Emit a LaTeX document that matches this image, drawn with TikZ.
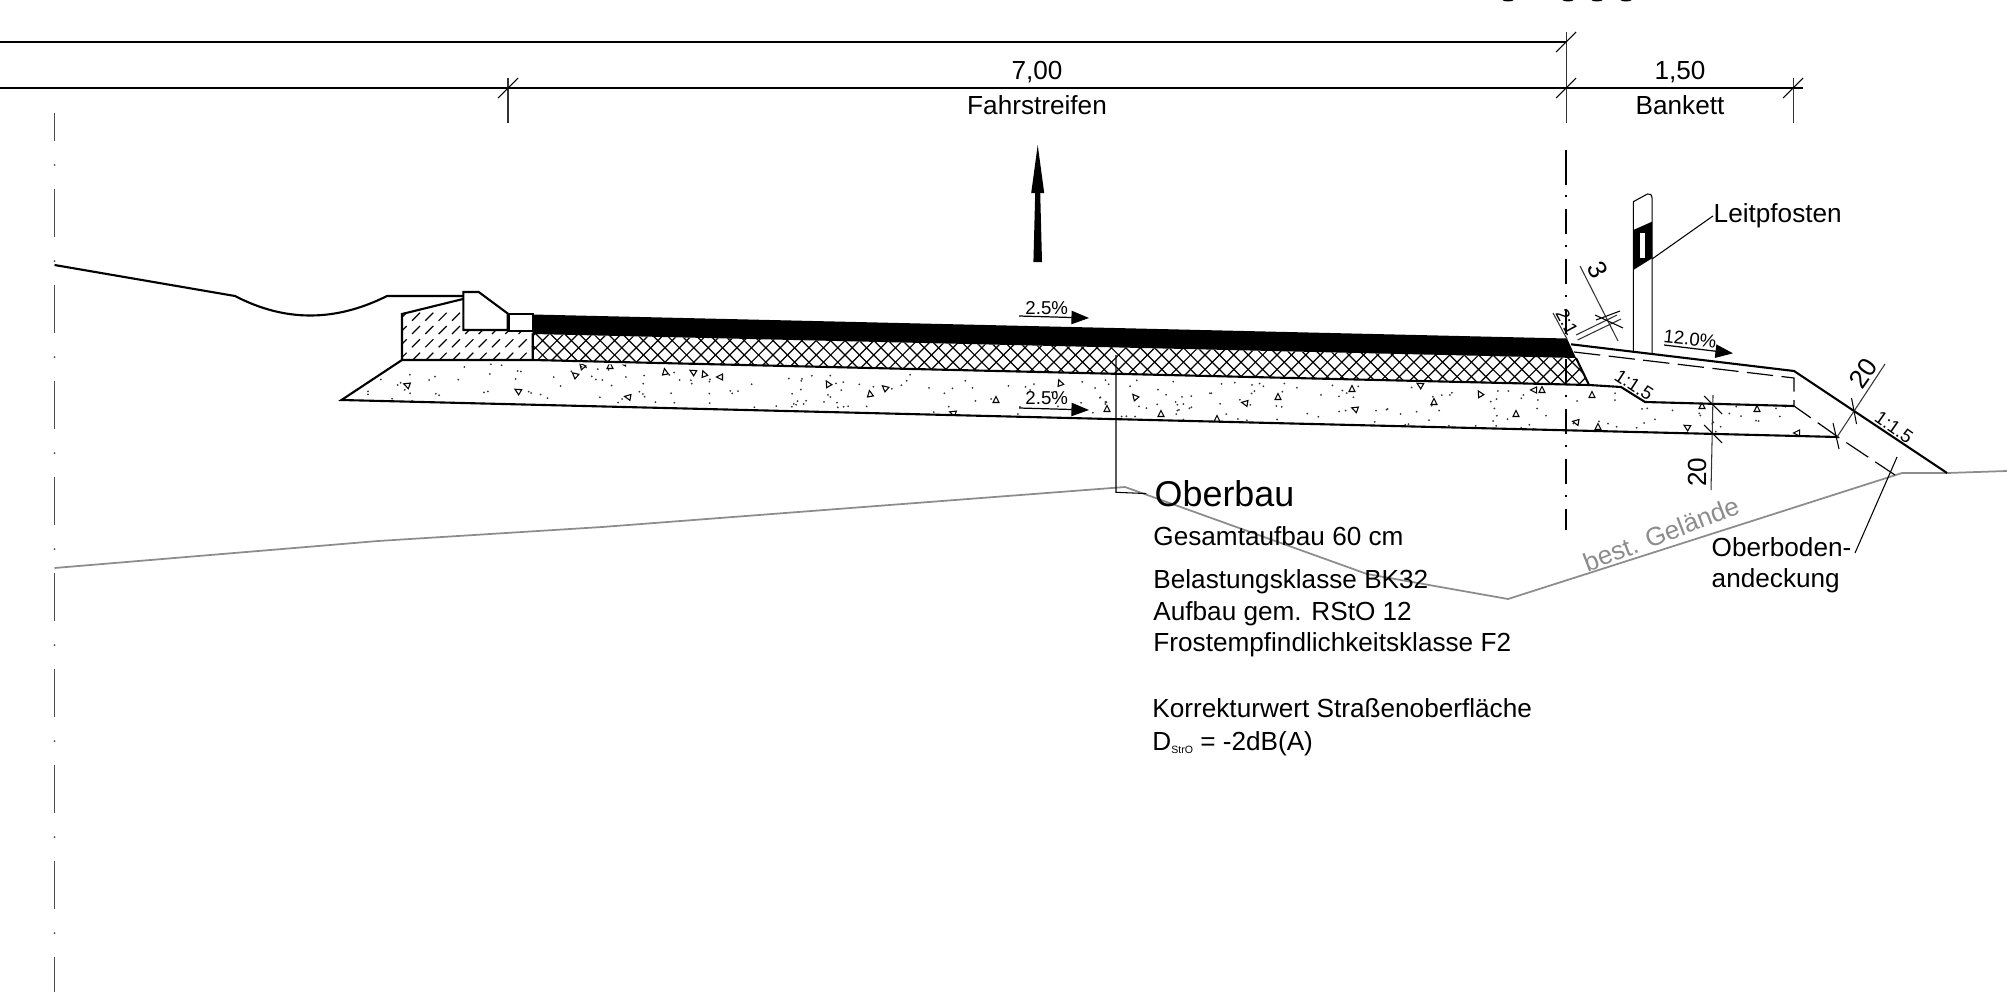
\documentclass[tikz,border=0pt]{standalone}
\usepackage{fontspec}
\setmainfont{Liberation Sans}
\usetikzlibrary{arrows.meta}
\tikzset{
    thickline/.style={line width=0.6pt,black},
    thinline/.style={line width=0.3pt,black!80},
    hatchline/.style={line width=0.34pt,black},
    groundline/.style={line width=0.5pt,black!45},
    txt/.style={font=\fontsize{7.44}{9}\selectfont,inner sep=0pt},
    smalltxt/.style={font=\fontsize{5.3}{6}\selectfont,inner sep=0pt},
    bigtxt/.style={font=\fontsize{10.2}{12}\selectfont,inner sep=0pt},
    slopearrow/.style={line width=0.35pt,-{Triangle[length=5pt,width=3.8pt]}},
    dimtick/.style={line width=0.3pt,black},
}
\newcommand{\dimmark}[1]{\draw[dimtick] (#1) +(-10,10) -- +(10,-10);}
\begin{document}
\begin{tikzpicture}[x=0.01cm,y=-0.01cm]
    \useasboundingbox (0,0) rectangle (2007,991);
    % cut off marks on the upper edge
    \foreach \x in {1508,1568,1597,1626}
        \fill (\x,0) ellipse (5.5 and 1.5);
    % dimension lines
    \draw[thinline,black] (0,42) -- (1566,42) (0,88) -- (1803,88);
    \draw[thinline] (1566,32) -- (1566,123) (508,78) -- (508,123) (1793,78) -- (1793,123);
    \dimmark{1566,42}
    \dimmark{1566,88}
    \dimmark{508,88}
    \dimmark{1793,88}
    \node[txt,anchor=base] (widthroad) at (1037,80) {7,00};
    \node[txt,anchor=base] (nameroad) at (1037,115) {Fahrstreifen};
    \node[txt,anchor=base] (widthshoulder) at (1680,80) {1,50};
    \node[txt,anchor=base] (nameshoulder) at (1680,115) {Bankett};
    % axis on the left
    \foreach \y in {285,381,...,957}
        \draw[line width=0.45pt,black!70] (54.5,\y) -- ++(0,48);
    \draw[line width=0.45pt,black!70] (54.5,113) -- (54.5,141) (54.5,189) -- (54.5,237);
    \foreach \y in {165,261,...,933}
        \fill[black!70] (54.5,\y) circle (1);
    % terrain
    \draw[groundline] (54.5,568) -- (378,541) -- (602,527) -- (1125,487) -- (1367,574) -- (1508,599)
        -- (1902,473) -- (1947,473) -- (2007,471);
    \draw[thickline] (54.5,265) -- (235,296) .. controls (285,322) and (335,322) .. (387,296) -- (463,296);
    % subbase
    \begin{scope}
        \clip (402,360) -- (1589,385) -- (1621,387) -- (1645,402) -- (1794,406) -- (1838,437) -- (341.5,400) -- cycle;
        \pgfmathsetseed{11}
        \foreach \i in {1,...,300}{
            \pgfmathsetmacro{\xa}{345+rnd*1480}
            \pgfmathsetmacro{\ya}{362+0.024*(\xa-400)+rnd*48}
            \fill[black!80] (\xa,\ya) circle (1);
        }
        \foreach \xa/\ya/\ang in {407/385/70,518/391/60,628/397/80,582/366/40,610/366/0,623/363/90,665/372/10,693/372/60,
            704/374/20,720/377/90,828/384/30,870/394/10,885/388/50,953/413/70,996/400/0,1107/409/0,1135/397/40,1161/414/0,
            1217/419/0,1245/403/80,1352/389/0,1355/409/70,1420/385/60,1434/402/0,1534/390/90,1542/390/0,1592/395/0,
            1516/414/0,1576/422/80,1598/427/0,1687/427/60,1702/406/0,1757/409/0,1797/433/90,575/375/50,1060/383/20,
            1278/397/0,1480/394/30}
            \draw[line width=0.3pt,shift={(\xa,\ya)},rotate=\ang] (0,-3.5) -- (3,2.5) -- (-3,2.5) -- cycle;
    \end{scope}
    % bound layer crosshatch
    \begin{scope}
        \clip (532.7,334) -- (1576,358) -- (1589,385) -- (532.7,360) -- cycle;
        \foreach \i in {0,...,95}{
            \draw[hatchline] (440+14.4*\i,310) -- ++(90,90);
            \draw[hatchline] (530+14.4*\i,310) -- ++(-90,90);
        }
    \end{scope}
    % hatch beside the curb
    \begin{scope}
        \clip (402,314) -- (463,299) -- (463,330) -- (532.7,330) -- (532.7,360) -- (402,360) -- cycle;
        \foreach \row in {316.7,330,343.3,356.7}
            \foreach \i in {-2,...,10}
                \draw[hatchline] (416+13.33*\i-4,\row+4) -- ++(8,-8);
    \end{scope}
    \draw[thickline] (463,299) -- (402,314) -- (402,360) -- (532.7,360) -- (1589,385) -- (1621,387) -- (1645,402) -- (1794,406);
    \draw[thickline] (402,360) -- (341.5,400) -- (1838,437);
    \draw[thickline] (532.7,334) -- (532.7,360) (1576,358) -- (1589,385);
    % curb
    \draw[thickline,fill=white] (463.3,292) -- (478.7,292) -- (507.7,313.5) -- (507.7,330) -- (463.3,330) -- cycle;
    \draw[thickline,fill=white] (509.3,314.3) rectangle (532.7,331);
    % asphalt
    \fill (532.7,314.5) -- (1567,338.5) -- (1576,358) -- (532.7,334) -- cycle;
    % shoulder
    \draw[thickline] (1571,344.3) -- (1794,371) -- (1947,473);
    \draw[line width=0.34pt,dash pattern=on 7.5pt off 2.4pt] (1574,352) -- (1794,378) -- (1794,406)
        -- (1838,437) -- (1895,475);
    % post
    \draw[thinline,black] (1652,353) -- (1652,198) .. controls (1652,195) and (1650,193) .. (1647.4,194)
        -- (1633.3,201.7) -- (1633.3,352);
    \fill (1633.3,230) -- (1652,221.7) -- (1652,258.3) -- (1633.3,270) -- cycle;
    \fill[white] (1640,232.7) rectangle (1644.7,258.3);
    \node[txt,anchor=base west] (post) at (1713,222.7) {Leitpfosten};
    \coordinate (postband) at (1652,259);
    \draw[thinline,black] (post.west) -- (postband);
    % centre axis of the shoulder edge
    \draw[line width=0.7pt] (1566,150) -- (1566,185);
    \draw[line width=0.7pt,dash pattern=on 0.6pt off 3.4pt on 7.2pt off 3pt] (1566,195) -- (1566,530);
    % slopes
    \draw[thinline] (1553,313) -- (1567,339);
    \node[smalltxt,rotate=-62] (slopeedge) at (1567,322) {2:1};
    \node[smalltxt,rotate=-33] (slopebase) at (1634,385) {1:1.5};
    \node[smalltxt,rotate=-35] (slopeouter) at (1894,427) {1:1.5};
    \node[smalltxt] (gradeone) at (1046.7,308) {2.5\%};
    \coordinate (gradeonea) at (1019,316);
    \coordinate (gradeoneb) at (1089,318);
    \draw[slopearrow] (gradeonea) -- (gradeoneb);
    \node[smalltxt] (gradetwo) at (1046.7,398) {2.5\%};
    \coordinate (gradetwoa) at (1019,408);
    \coordinate (gradetwob) at (1089,410);
    \draw[slopearrow] (gradetwoa) -- (gradetwob);
    \node[smalltxt,rotate=-6] (gradethree) at (1690,339) {12.0\%};
    \coordinate (gradethreea) at (1664,345);
    \coordinate (gradethreeb) at (1733,353.3);
    \draw[slopearrow] (gradethreea) -- (gradethreeb);
    % driving direction
    \fill (1037.7,145) -- (1044.2,193) -- (1040.2,193) -- (1042,262) -- (1033.4,262) -- (1035.2,193) -- (1031.2,193) -- cycle;
    % small dimensions
    \draw[thinline] (1580,266) -- (1618,341) (1576,335) -- (1617,315) (1577.5,340) -- (1621,319);
    \draw[dimtick] (1595,315) -- (1623,328) (1596,320) -- (1620,311);
    \node[txt,rotate=-63] (dimasphalt) at (1598,270) {3};
    \draw[thinline] (1713,395) -- (1711,490);
    \draw[dimtick] (1704,396) -- (1722,414) (1704,425) -- (1722,443);
    \node[txt,rotate=90] (dimsubbase) at (1697,472) {20};
    \draw[thinline] (1837,437) -- (1885,364);
    \draw[dimtick] (1851.5,398) -- (1856.5,424) (1833,423) -- (1839,449);
    \node[txt,rotate=55] (dimslope) at (1863,373) {20};
    % notes
    \node[bigtxt,anchor=base west] (oberbau) at (1154,506.7) {Oberbau};
    \coordinate (layers) at (1116,355);
    \draw[thinline,black,shorten >=2.2pt] (layers) -- (1116,492.3) -- (oberbau.west);
    \node[txt,anchor=base west] (total) at (1152.7,545) {Gesamtaufbau 60 cm};
    \node[txt,anchor=base west] (loadclass) at (1152.7,588.3) {Belastungsklasse BK32};
    \node[txt,anchor=base west] (rsto) at (1152.7,620) {Aufbau gem. RStO 12};
    \node[txt,anchor=base west] (frost) at (1152.7,651.7) {Frostempfindlichkeitsklasse F2};
    \node[txt,anchor=base west] (correction) at (1151.7,717.3) {Korrekturwert Straßenoberfläche};
    \node[txt,anchor=base west] (dstro) at (1151.7,750) {D\raisebox{-1pt}{\fontsize{3}{3}\selectfont StrO} = -2dB(A)};
    \node[txt,rotate=21,text=black!45,font=\fontsize{7.4}{9}\selectfont] (ground) at (1661,534) {best. Gelände};
    \node[txt,anchor=base west] (topsoila) at (1711,556) {Oberboden-};
    \node[txt,anchor=base west] (topsoilb) at (1711,587) {andeckung};
    \coordinate (topsoilend) at (1897,457);
    \draw[thinline,black] (1855,553) -- (topsoilend);
\end{tikzpicture}
\end{document}
